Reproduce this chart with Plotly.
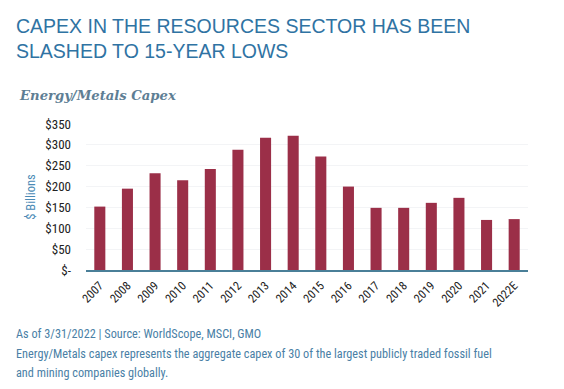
import plotly.graph_objects as go

years = ["2007", "2008", "2009", "2010", "2011", "2012", "2013", "2014",
         "2015", "2016", "2017", "2018", "2019", "2020", "2021", "2022E"]
capex = [152, 195, 232, 215, 242, 288, 317, 322, 272, 200, 149, 149, 161, 173, 120, 122]
y_ticks = [0, 50, 100, 150, 200, 250, 300, 350]
y_tick_labels = ["$-", "$50", "$100", "$150", "$200", "$250", "$300", "$350"]
footer_lines = [
    "As of 3/31/2022 | Source: WorldScope, MSCI, GMO",
    "Energy/Metals capex represents the aggregate capex of 30 of the largest publicly traded fossil fuel",
    "and mining companies globally.",
]

narrow = "Liberation Sans Narrow, Roboto Condensed, Arial Narrow, Roboto, sans-serif"

W, H = 564, 389
left, right, top, bottom = 86, 36, 124, 119
pw = W - left - right
ph = H - top - bottom
def px(xp): return (xp - left) / pw
def py(yp): return (H - bottom - yp) / ph

fig = go.Figure()
fig.add_trace(go.Bar(
    x=years, y=capex,
    marker=dict(color="#9b2f48", line=dict(width=0)),
    hoverinfo="x+y",
))

annotations = [
    dict(text="CAPEX IN THE RESOURCES SECTOR HAS BEEN<br>SLASHED TO 15-YEAR LOWS",
         xref="paper", yref="paper", x=px(14), y=py(13), xanchor="left", yanchor="top",
         showarrow=False, align="left",
         font=dict(family="Liberation Sans, Arial, sans-serif", size=19.5, color="#2f73a3")),
    dict(text="<b><i>Energy/Metals Capex</i></b>",
         xref="paper", yref="paper", x=px(17), y=py(95), xanchor="left", yanchor="middle",
         showarrow=False, align="left",
         font=dict(family="DejaVu Serif, Liberation Serif, serif", size=13.2, color="#5e7e94")),
]
for i, line in enumerate(footer_lines):
    annotations.append(dict(
        text=line, xref="paper", yref="paper", x=px(14), y=py(334 + 19.5 * i),
        xanchor="left", yanchor="middle", showarrow=False, align="left",
        font=dict(family=narrow, size=12.25, color="#4a7fa6")))

fig.update_layout(
    width=W, height=H,
    margin=dict(l=left, r=right, t=top, b=bottom, autoexpand=False),
    paper_bgcolor="white", plot_bgcolor="white",
    bargap=0.6,
    showlegend=False,
    xaxis=dict(
        type="category",
        tickangle=-45,
        tickfont=dict(family=narrow, size=12, color="#222222"),
        showline=True, linecolor="#4a7f98", linewidth=2,
        ticks="", showgrid=False, zeroline=False,
        ticklabelstandoff=2,
    ),
    yaxis=dict(
        range=[0, 350],
        tickvals=y_ticks, ticktext=y_tick_labels,
        tickfont=dict(family=narrow, size=13, color="#222222"),
        showgrid=True, gridcolor="#f3f4f6", gridwidth=1,
        zeroline=False, showline=False, ticks="",
        ticklabelstandoff=14,
        title=dict(text="$ Billions", font=dict(family=narrow, size=12.5, color="#4a8ab5"), standoff=6),
    ),
    annotations=annotations,
)

fig.write_html("out.html", config={"displayModeBar": False},
               post_script="document.body.style.margin='0';")
